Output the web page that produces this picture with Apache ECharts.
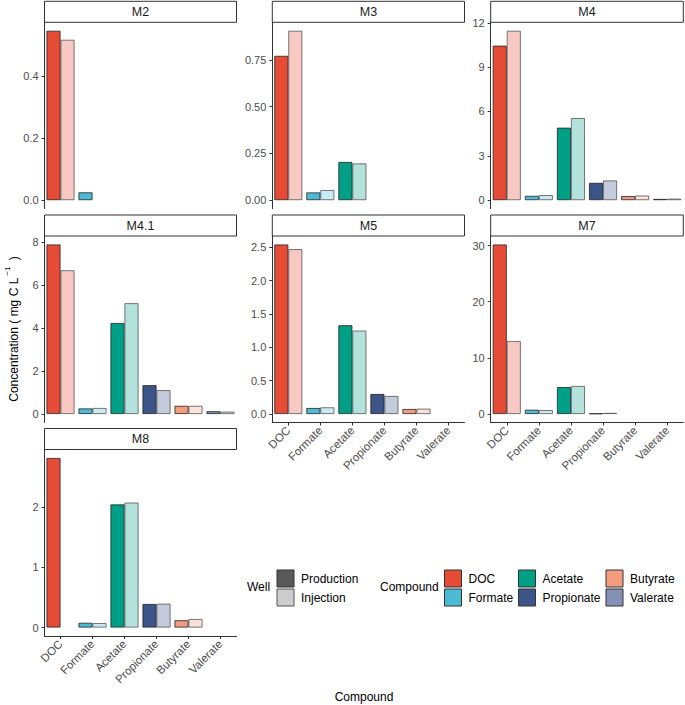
<!DOCTYPE html>
<html>
<head>
<meta charset="utf-8">
<script src="https://cdn.jsdelivr.net/npm/echarts@6/dist/echarts.min.js"></script>
<style>
html,body{margin:0;padding:0;background:#fff;}
#chart{width:685px;height:705px;}
</style>
</head>
<body>
<div id="chart"></div>
<script>
// ---- data ----
const categories = ['DOC', 'Formate', 'Acetate', 'Propionate', 'Butyrate', 'Valerate'];
const panels = ['M2', 'M3', 'M4', 'M4.1', 'M5', 'M7', 'M8'];
const compoundColors = ['#E64B35', '#4DBBD5', '#00A087', '#3C5488', '#F39B7F', '#8491B4'];

const m2Production  = [0.545, 0.025, null, null, null, null];
const m2Injection   = [0.516, null, null, null, null, null];
const m3Production  = [0.771, 0.041, 0.204, null, null, null];
const m3Injection   = [0.905, 0.054, 0.196, null, null, null];
const m4Production  = [10.45, 0.29, 4.90, 1.17, 0.27, 0.08];
const m4Injection   = [11.46, 0.34, 5.55, 1.33, 0.31, 0.10];
const m41Production = [7.88, 0.26, 4.23, 1.34, 0.38, 0.13];
const m41Injection  = [6.68, 0.28, 5.15, 1.11, 0.38, 0.11];
const m5Production  = [2.54, 0.09, 1.33, 0.30, 0.075, null];
const m5Injection   = [2.47, 0.10, 1.25, 0.27, 0.08, null];
const m7Production  = [30.2, 0.76, 4.8, 0.10, null, null];
const m7Injection   = [13.0, 0.70, 5.0, 0.20, null, null];
const m8Production  = [2.81, 0.078, 2.04, 0.39, 0.12, null];
const m8Injection   = [null, 0.073, 2.07, 0.395, 0.14, null];

const m2Ticks  = ['0.0', '0.2', '0.4'];
const m3Ticks  = ['0.00', '0.25', '0.50', '0.75'];
const m4Ticks  = ['0', '3', '6', '9', '12'];
const m41Ticks = ['0', '2', '4', '6', '8'];
const m5Ticks  = ['0.0', '0.5', '1.0', '1.5', '2.0', '2.5'];
const m7Ticks  = ['0', '10', '20', '30'];
const m8Ticks  = ['0', '1', '2'];

const productionData = [m2Production, m3Production, m4Production, m41Production, m5Production, m7Production, m8Production];
const injectionData  = [m2Injection, m3Injection, m4Injection, m41Injection, m5Injection, m7Injection, m8Injection];
const tickLabels     = [m2Ticks, m3Ticks, m4Ticks, m41Ticks, m5Ticks, m7Ticks, m8Ticks];

// ---- layout ----
const FONT = '"Liberation Sans", Arial, Helvetica, sans-serif';
const cols = [[44.5, 192], [272.3, 192.2], [490.7, 192.6]];
const rows = [[22.3, 186.3], [236, 186.5], [449.5, 186.5]];
const panelPos = [[0, 0], [0, 1], [0, 2], [1, 0], [1, 1], [1, 2], [2, 0]];
const showX = [false, false, false, false, true, true, true];
const STRIP_H = 21;

function withAlpha(hex, a) {
  const r = parseInt(hex.slice(1, 3), 16), g = parseInt(hex.slice(3, 5), 16), b = parseInt(hex.slice(5, 7), 16);
  return 'rgba(' + r + ',' + g + ',' + b + ',' + a + ')';
}

const grids = [], xAxes = [], yAxes = [], series = [], graphics = [];

panels.forEach((name, i) => {
  const [ri, ci] = panelPos[i];
  const [left, width] = cols[ci];
  const [top, height] = rows[ri];
  grids.push({ left: left, top: top, width: width, height: height, containLabel: false });

  const prod = productionData[i], inj = injectionData[i];
  const all = prod.concat(inj).filter(v => v !== null);
  const maxV = Math.max.apply(null, all);
  const ticks = tickLabels[i];
  const tickVals = ticks.map(Number);

  xAxes.push({
    type: 'category', gridIndex: i, data: categories,
    axisLine: { show: showX[i], onZero: false, lineStyle: { color: '#333', width: 1 } },
    axisTick: { show: showX[i], alignWithLabel: true, length: 3, lineStyle: { color: '#333' } },
    axisLabel: { show: showX[i], rotate: 45, interval: 0, margin: 6, fontSize: 11.5, color: '#4D4D4D', fontFamily: FONT },
    splitLine: { show: false }
  });
  yAxes.push({
    type: 'value', gridIndex: i,
    min: -0.05 * maxV, max: 1.05 * maxV,
    axisLine: { show: true, lineStyle: { color: '#333', width: 1 } },
    axisTick: { show: true, length: 3, customValues: tickVals, lineStyle: { color: '#333' } },
    axisLabel: {
      customValues: tickVals, margin: 6, fontSize: 11, color: '#4D4D4D', fontFamily: FONT,
      formatter: function (v) {
        for (let k = 0; k < ticks.length; k++) { if (Math.abs(Number(ticks[k]) - v) < 1e-9) return ticks[k]; }
        return '';
      }
    },
    splitLine: { show: false }
  });

  series.push({
    type: 'bar', name: 'Production', xAxisIndex: i, yAxisIndex: i,
    barWidth: 14, barGap: '0%',
    itemStyle: { color: '#595959', borderColor: '#222', borderWidth: 0.8 },
    data: prod.map((v, j) => v === null ? '-' : { value: v, itemStyle: { color: compoundColors[j] } }),
    silent: true
  });
  series.push({
    type: 'bar', name: 'Injection', xAxisIndex: i, yAxisIndex: i,
    barWidth: 14, barGap: '0%',
    itemStyle: { color: '#CCCCCC', borderColor: '#555', borderWidth: 0.8 },
    data: inj.map((v, j) => v === null ? '-' : { value: v, itemStyle: { color: withAlpha(compoundColors[j], 0.3) } }),
    silent: true
  });

  // strip
  graphics.push({
    type: 'rect', silent: true,
    shape: { x: left, y: top - STRIP_H, width: width, height: STRIP_H },
    style: { fill: '#fff', stroke: '#333', lineWidth: 1 }
  });
  graphics.push({
    type: 'text', silent: true,
    x: left + width / 2, y: top - STRIP_H / 2,
    style: { text: name, fill: '#1A1A1A', font: '12.5px ' + FONT, textAlign: 'center', textVerticalAlign: 'middle' }
  });
});

// dummy series for compound legend
categories.forEach((c, j) => {
  series.push({ type: 'scatter', name: c, xAxisIndex: 0, yAxisIndex: 0, data: [],
    itemStyle: { color: compoundColors[j], opacity: 1, borderColor: '#333', borderWidth: 0.8 } });
});

// axis titles and legend titles
graphics.push({
  type: 'text', silent: true, x: 364, y: 697,
  style: { text: 'Compound', fill: '#000', font: '12px ' + FONT, textAlign: 'center', textVerticalAlign: 'middle' }
});
graphics.push({
  type: 'text', silent: true, x: 11.5, y: 329, rotation: Math.PI / 2,
  style: {
    text: '{a|Concentration ( mg C L}{s|−1}{a| )}',
    textAlign: 'center', textVerticalAlign: 'middle',
    rich: {
      a: { fontSize: 12, fontFamily: FONT, fill: '#000', lineHeight: 16, verticalAlign: 'bottom' },
      s: { fontSize: 8, fontFamily: FONT, fill: '#000', lineHeight: 16, verticalAlign: 'top', padding: [0, 3, 0, 2] }
    }
  }
});
graphics.push({
  type: 'text', silent: true, x: 247, y: 587,
  style: { text: 'Well', fill: '#000', font: '12px ' + FONT, textAlign: 'left', textVerticalAlign: 'middle' }
});
graphics.push({
  type: 'text', silent: true, x: 380, y: 587,
  style: { text: 'Compound', fill: '#000', font: '12px ' + FONT, textAlign: 'left', textVerticalAlign: 'middle' }
});

function key(name, color, border) {
  return { name: name, itemStyle: { color: color, opacity: 1, borderColor: border, borderWidth: 1 } };
}
const legendBase = {
  orient: 'vertical', icon: 'rect', itemWidth: 17, itemHeight: 17, itemGap: 1, padding: 0,
  selectedMode: false,
  textStyle: { fontSize: 12, color: '#000', fontFamily: FONT, padding: [0, 0, 0, 2] }
};
const legends = [
  Object.assign({}, legendBase, { left: 276.5, top: 569.5, data: [
    key('Production', '#595959', '#333'), key('Injection', '#CCCCCC', '#555')
  ] }),
  Object.assign({}, legendBase, { left: 444, top: 569.5, data: [
    key('DOC', compoundColors[0], '#333'), key('Formate', compoundColors[1], '#333')
  ] }),
  Object.assign({}, legendBase, { left: 518, top: 569.5, data: [
    key('Acetate', compoundColors[2], '#333'), key('Propionate', compoundColors[3], '#333')
  ] }),
  Object.assign({}, legendBase, { left: 605.5, top: 569.5, data: [
    key('Butyrate', compoundColors[4], '#333'), key('Valerate', compoundColors[5], '#333')
  ] })
];

const chart = echarts.init(document.getElementById('chart'), null, { renderer: 'svg' });
chart.setOption({
  animation: false,
  backgroundColor: '#fff',
  textStyle: { fontFamily: FONT },
  grid: grids,
  xAxis: xAxes,
  yAxis: yAxes,
  legend: legends,
  series: series,
  graphic: graphics
});
</script>
</body>
</html>
